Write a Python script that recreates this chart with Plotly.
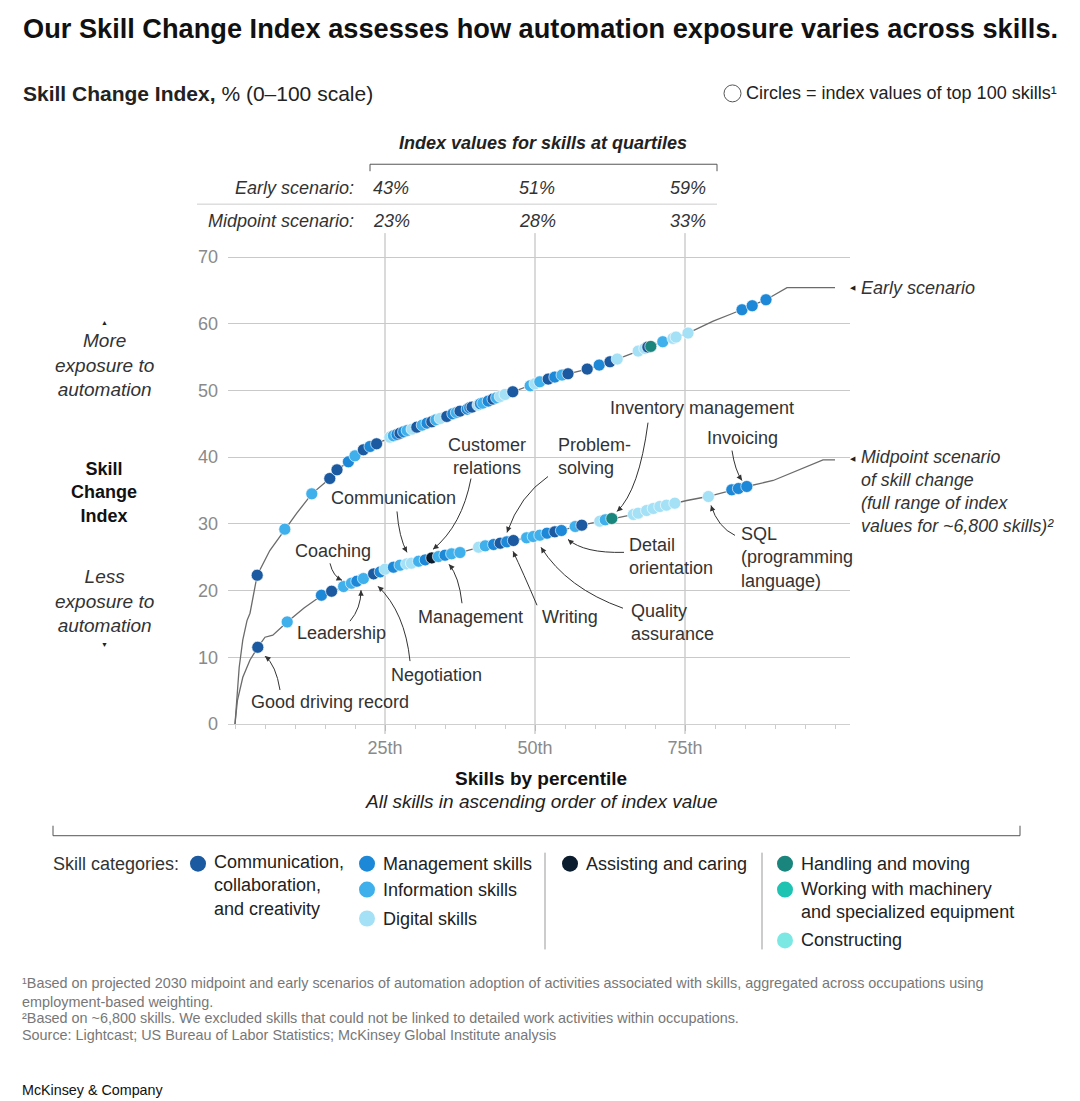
import plotly.graph_objects as go

W, H = 1080, 1101
FONT = "Liberation Sans, Arial, sans-serif"

# ---------------- data ----------------
categories = ["Communication, collaboration, and creativity", "Management skills",
              "Information skills", "Digital skills", "Assisting and caring",
              "Handling and moving", "Working with machinery and specialized equipment",
              "Constructing"]
category_codes = ["C", "M", "I", "D", "A", "H", "W", "K"]
category_colors = ["#1B5AA0", "#1E88D8", "#3FB0EC", "#A4E0F6", "#0B1C2E",
                   "#1A857D", "#1FC3B2", "#7BE8E4"]

early_line_pct = [0, 0.3, 0.7, 1.3, 2.0, 2.5, 3.3, 3.7, 5.8, 8.3, 10.3, 12.8, 15.8, 17.0,
                  18.8, 20.3, 22.0, 23.7, 26.3, 39.2, 46.3, 49.2, 52.0, 58.7, 62.5, 67.2,
                  71.3, 75.5, 79.7, 82.8, 84.5, 86.2, 88.5, 92.0, 100]
early_line_val = [0, 4.0, 8.5, 12.6, 15.5, 16.6, 20.3, 22.3, 26.0, 29.2, 31.6, 34.5, 36.8, 38.1,
                  39.2, 40.5, 41.4, 42.0, 43.2, 47.4, 49.8, 50.7, 51.7, 53.2, 54.3, 55.9,
                  57.3, 58.6, 60.4, 61.5, 62.1, 62.7, 63.6, 65.4, 65.4]

mid_line_pct = [0, 0.4, 1.3, 2.5, 3.8, 5.0, 6.3, 8.7, 11.5, 14.5, 18.0, 21.3, 25.3, 29.7,
                32.5, 37.5, 40.8, 46.2, 49.2, 52.0, 54.2, 57.8, 60.8, 62.8, 66.3, 69.7,
                73.3, 75.3, 78.8, 83.0, 85.3, 89.7, 93.0, 98.0, 100]
mid_line_val = [0, 3.5, 7.0, 9.6, 11.5, 13.0, 13.3, 15.3, 17.4, 19.3, 20.5, 21.8, 23.3, 24.2,
                24.8, 25.7, 26.5, 27.5, 28.0, 28.6, 29.0, 29.8, 30.4, 30.8, 31.4, 32.3,
                33.1, 33.5, 34.1, 35.1, 35.6, 36.5, 37.7, 39.6, 39.6]

early_dot_pct = [3.7, 8.3, 12.8, 15.8, 17.0, 18.9, 20.0, 21.4, 22.5, 23.6, 25.8, 26.4, 27.0,
                 27.5, 28.1, 28.7, 29.5, 30.3, 31.2, 32.0, 32.8, 33.5, 34.2, 35.3, 36.3, 36.9,
                 37.5, 38.7, 39.1, 39.5, 40.5, 40.9, 41.3, 42.2, 43.0, 43.6, 44.2, 45.0, 46.3,
                 49.2, 50.0, 50.8, 52.2, 53.3, 54.5, 55.5, 58.7, 60.7, 62.5, 63.7, 67.2, 68.3,
                 68.8, 69.3, 71.3, 73.0, 73.5, 75.5, 84.5, 86.2, 88.5]
early_dot_val = [22.3, 29.2, 34.5, 36.8, 38.1, 39.3, 40.2, 41.1, 41.6, 42.0, 43.0, 43.2, 43.4,
                 43.6, 43.8, 44.0, 44.2, 44.5, 44.8, 45.1, 45.3, 45.6, 45.8, 46.1, 46.5, 46.7,
                 46.9, 47.2, 47.4, 47.5, 47.8, 48.0, 48.1, 48.4, 48.7, 48.9, 49.1, 49.4, 49.8,
                 50.7, 51.0, 51.3, 51.7, 52.0, 52.3, 52.5, 53.2, 53.8, 54.3, 54.7, 55.9, 56.3,
                 56.5, 56.6, 57.3, 57.8, 58.0, 58.6, 62.1, 62.7, 63.6]
early_dot_cat = ["C", "I", "I", "C", "C", "M", "I", "C", "M", "C", "D", "I", "M",
                 "C", "M", "I", "D", "C", "I", "M", "C", "I", "D", "C", "M", "I",
                 "C", "M", "M", "C", "D", "M", "I", "M", "C", "I", "D", "D", "C",
                 "I", "D", "I", "C", "M", "I", "C", "C", "M", "C", "D", "D", "D",
                 "C", "H", "I", "D", "D", "D", "M", "M", "M"]

mid_dot_pct = [3.8, 8.7, 14.4, 16.1, 18.1, 19.4, 20.3, 21.4, 23.1, 24.2, 25.0, 26.4, 27.5,
               28.6, 29.4, 30.6, 31.7, 32.8, 33.9, 35.0, 36.1, 37.5, 40.6, 41.7, 43.1, 44.2,
               45.3, 46.4, 48.6, 49.7, 50.8, 52.0, 53.3, 54.4, 56.7, 57.8, 60.8, 61.7, 62.8,
               66.4, 67.2, 68.6, 69.7, 70.8, 71.9, 73.3, 78.9, 82.8, 83.9, 85.3]
mid_dot_val = [11.5, 15.3, 19.3, 19.9, 20.6, 21.1, 21.4, 21.8, 22.5, 22.8, 23.2, 23.5, 23.8,
               24.0, 24.1, 24.4, 24.6, 24.9, 25.1, 25.3, 25.5, 25.7, 26.5, 26.7, 26.9, 27.1,
               27.3, 27.5, 27.9, 28.1, 28.3, 28.6, 28.8, 29.0, 29.6, 29.8, 30.4, 30.6, 30.8,
               31.4, 31.6, 32.0, 32.3, 32.6, 32.8, 33.1, 34.1, 35.1, 35.3, 35.6]
mid_dot_cat = ["C", "I", "M", "C", "I", "I", "M", "I", "C", "M", "D", "M", "I",
               "D", "D", "I", "M", "A", "I", "M", "I", "I", "D", "I", "M", "C",
               "M", "C", "I", "I", "I", "M", "C", "M", "I", "C", "D", "I", "H",
               "D", "D", "D", "D", "D", "D", "D", "D", "M", "M", "M"]

quartile_pct = [25, 50, 75]
quartile_labels = ["25th", "50th", "75th"]
early_quartile_vals = ["43%", "51%", "59%"]
mid_quartile_vals = ["23%", "28%", "33%"]
y_ticks = [0, 10, 20, 30, 40, 50, 60, 70]

# ---------------- helpers ----------------
# vertical calibration of the photographed page
VS, VO = 0.9859, 6.4


def px(x):
    return x / W


def py(y):
    return 1 - ((y - VO) / VS) / H


cmap = dict(zip(category_codes, category_colors))
annotations = []
shapes = []


def txt(text, x, y, size=18, color="#333", xanchor="center", yanchor="middle",
        align="center", family=FONT):
    annotations.append(dict(text=text, x=px(x), y=py(y), xref="paper", yref="paper",
                            showarrow=False, xanchor=xanchor, yanchor=yanchor, align=align,
                            font=dict(size=size, color=color, family=family)))


def line(x0, y0, x1, y1, color="#bbb", width=1):
    shapes.append(dict(type="line", xref="paper", yref="paper", x0=px(x0), y0=py(y0),
                       x1=px(x1), y1=py(y1), line=dict(color=color, width=width)))


def curved_arrow(tail, ctrl, tip):
    path = "M {:.5f},{:.5f} Q {:.5f},{:.5f} {:.5f},{:.5f}".format(
        px(tail[0]), py(tail[1]), px(ctrl[0]), py(ctrl[1]), px(tip[0]), py(tip[1]))
    shapes.append(dict(type="path", xref="paper", yref="paper", path=path,
                       line=dict(color="#333", width=1)))
    dx, dy = ctrl[0] - tip[0], ctrl[1] - tip[1]
    n = (dx * dx + dy * dy) ** 0.5 or 1
    annotations.append(dict(x=px(tip[0]), y=py(tip[1]), xref="paper", yref="paper",
                            ax=dx / n * 6, ay=dy / n * 6, axref="pixel", ayref="pixel",
                            text="", showarrow=True, arrowhead=2, arrowsize=1.1,
                            arrowwidth=1, arrowcolor="#333", standoff=0))


# ---------------- traces ----------------
fig = go.Figure()
fig.add_trace(go.Scatter(x=early_line_pct, y=early_line_val, mode="lines",
                         line=dict(color="#6b6b6b", width=1.3), hoverinfo="skip",
                         showlegend=False))
fig.add_trace(go.Scatter(x=mid_line_pct, y=mid_line_val, mode="lines",
                         line=dict(color="#6b6b6b", width=1.3), hoverinfo="skip",
                         showlegend=False))
fig.add_trace(go.Scatter(x=early_dot_pct, y=early_dot_val, mode="markers",
                         marker=dict(size=12, color=[cmap[c] for c in early_dot_cat],
                                     line=dict(color="rgba(255,255,255,0.8)", width=0.8)),
                         showlegend=False))
fig.add_trace(go.Scatter(x=mid_dot_pct, y=mid_dot_val, mode="markers",
                         marker=dict(size=12, color=[cmap[c] for c in mid_dot_cat],
                                     line=dict(color="rgba(255,255,255,0.8)", width=0.8)),
                         showlegend=False))

for q in quartile_pct:
    shapes.append(dict(type="line", xref="x", yref="paper", x0=q, x1=q,
                       y0=py(734), y1=py(232), line=dict(color="#b5b5b5", width=1),
                       layer="below"))

# ---------------- header ----------------
txt("<b>Our Skill Change Index assesses how automation exposure varies across skills.</b>",
    21, 27, size=27.2, color="#111", xanchor="left")
txt("<b>Skill Change Index,</b> % (0–100 scale)", 21, 92, size=21, color="#222",
    xanchor="left")
shapes.append(dict(type="circle", xref="paper", yref="paper", x0=px(724), x1=px(741),
                   y0=py(100.5), y1=py(83.5), line=dict(color="#555", width=1)))
txt("Circles = index values of top 100 skills¹", 1059, 92, size=18, color="#222",
    xanchor="right")

# ---------------- quartile table ----------------
txt("<b><i>Index values for skills at quartiles</i></b>", 543, 142, size=18, color="#222")
line(370, 163, 717, 163, color="#555")
line(370, 163, 370, 170, color="#555")
line(717, 163, 717, 170, color="#555")
line(197, 203, 717, 203, color="#ccc")
txt("<i>Early scenario:</i>", 356, 187, size=18, xanchor="right")
txt("<i>Midpoint scenario:</i>", 356, 220, size=18, xanchor="right")
for val, x, anc in zip(early_quartile_vals, [371, 537, 708], ["left", "center", "right"]):
    txt("<i>" + val + "</i>", x, 187, size=18, xanchor=anc)
for val, x, anc in zip(mid_quartile_vals, [371, 537, 708], ["left", "center", "right"]):
    txt("<i>" + val + "</i>", x, 220, size=18, xanchor=anc)

# ---------------- left side labels ----------------
txt("▲", 104, 322, size=7, color="#222")
txt("<i>More<br>exposure to<br>automation</i>", 104, 364, size=19)
txt("<b>Skill<br>Change<br>Index</b>", 104, 492, size=18, color="#111")
txt("<i>Less<br>exposure to<br>automation</i>", 104, 601, size=19)
txt("▼", 104, 644, size=7, color="#222")

# ---------------- series labels ----------------
txt("◀", 853, 287, size=7, color="#222")
txt("<i>Early scenario</i>", 859, 287, size=18, xanchor="left")
txt("◀", 853, 458, size=7, color="#222")
txt("<i>Midpoint scenario<br>of skill change<br>(full range of index<br>values for ~6,800 skills)²</i>",
    859, 491, size=17.8, xanchor="left", align="left")

# ---------------- callouts ----------------
callouts = [
    ("Good driving record", 330, 702, "center", (280, 690), (276, 665), (265, 656)),
    ("Leadership", 341, 633, "center", (350, 621), (361, 608), (361, 590)),
    ("Coaching", 333, 551, "center", (330, 563), (333, 576), (342, 580)),
    ("Negotiation", 436, 675, "center", (410, 661), (405, 612), (378, 586)),
    ("Communication", 393, 498, "center", (397, 511), (399, 537), (407, 552)),
    ("Customer<br>relations", 487, 456, "center", (471, 478), (462, 525), (433, 549)),
    ("Management", 470, 617, "center", (462, 603), (459, 576), (449, 564)),
    ("Problem-<br>solving", 556, 456, "left", (548, 476), (520, 495), (507, 532)),
    ("Writing", 570, 617, "center", (537, 605), (523, 572), (513, 551)),
    ("Quality<br>assurance", 629, 622, "left", (623, 608), (567, 588), (541, 547)),
    ("Detail<br>orientation", 627, 556, "left", (624, 552), (584, 553), (568, 539)),
    ("Inventory management", 702, 407, "center", (648, 422), (639, 490), (617, 511)),
    ("Invoicing", 742, 437, "center", (732, 450), (735, 470), (742, 480)),
    ("SQL<br>(programming<br>language)", 739, 557, "left", (735, 535), (718, 527), (711, 505)),
]
for text, tx, ty, anc, tail, ctrl, tip in callouts:
    txt(text, tx, ty, size=18, xanchor=anc, align=anc)
    curved_arrow(tail, ctrl, tip)

# ---------------- x-axis title ----------------
txt("<b>Skills by percentile</b>", 541, 779, size=19, color="#111")
txt("<i>All skills in ascending order of index value</i>", 541, 802, size=19, color="#222")

# ---------------- legend ----------------
line(53, 836, 1020, 836, color="#555")
line(53, 826, 53, 836, color="#555")
line(1020, 826, 1020, 836, color="#555")
txt("Skill categories:", 51, 864, size=18, xanchor="left")
legend_items = [
    ("C", 198, 864, "Communication,<br>collaboration,<br>and creativity", 886),
    ("M", 367, 864, "Management skills", 864),
    ("I", 367, 890, "Information skills", 890),
    ("D", 367, 919, "Digital skills", 919),
    ("A", 570, 864, "Assisting and caring", 864),
    ("H", 785, 864, "Handling and moving", 864),
    ("W", 785, 890, "Working with machinery<br>and specialized equipment", 901),
    ("K", 785, 941, "Constructing", 941),
]
for code, cx, cy, label, ly in legend_items:
    shapes.append(dict(type="circle", xref="paper", yref="paper", x0=px(cx - 8), x1=px(cx + 8),
                       y0=py(cy + 8), y1=py(cy - 8), fillcolor=cmap[code],
                       line=dict(width=0)))
    txt(label, cx + 14, ly, size=18, xanchor="left", align="left", color="#222")
line(545, 853, 545, 950, color="#999")
line(762, 853, 762, 950, color="#999")

# ---------------- footnotes ----------------
txt("¹Based on projected 2030 midpoint and early scenarios of automation adoption of activities "
    "associated with skills, aggregated across occupations using<br>employment-based weighting.",
    20, 993, size=14.4, color="#777", xanchor="left", align="left")
txt("²Based on ~6,800 skills. We excluded skills that could not be linked to detailed work "
    "activities within occupations.", 20, 1019, size=14.4, color="#777", xanchor="left")
txt("Source: Lightcast; US Bureau of Labor Statistics; McKinsey Global Institute analysis",
    20, 1036, size=14.4, color="#777", xanchor="left")
txt("McKinsey & Company", 20, 1091, size=14.3, color="#111", xanchor="left")

# ---------------- layout ----------------
fig.update_layout(
    width=W, height=H, margin=dict(l=0, r=0, t=0, b=0),
    paper_bgcolor="white", plot_bgcolor="white",
    font=dict(family=FONT, color="#333"),
    showlegend=False,
    xaxis=dict(domain=[px(228), px(850)], range=[-7 / 6, 102.5], showgrid=False,
               zeroline=False, showline=True, linecolor="#cfcfcf", linewidth=1,
               tickmode="array", tickvals=quartile_pct, ticktext=quartile_labels,
               ticks="outside", ticklen=6, tickcolor="#bbb",
               tickfont=dict(size=18, color="#8a8a8a", family=FONT), ticklabelstandoff=1,
               minor=dict(tick0=0, dtick=5, ticks="outside", ticklen=4, tickcolor="#ccc"),
               fixedrange=True),
    yaxis=dict(domain=[py(724), py(254)], range=[0, 70.3], tickmode="array",
               tickvals=y_ticks, showgrid=True, gridcolor="#c9c9c9", gridwidth=1,
               zeroline=False, showline=False, ticks="",
               tickfont=dict(size=18, color="#8a8a8a", family=FONT), ticklabelstandoff=9,
               fixedrange=True),
    annotations=annotations,
    shapes=shapes,
)

fig.write_html("out.html")
